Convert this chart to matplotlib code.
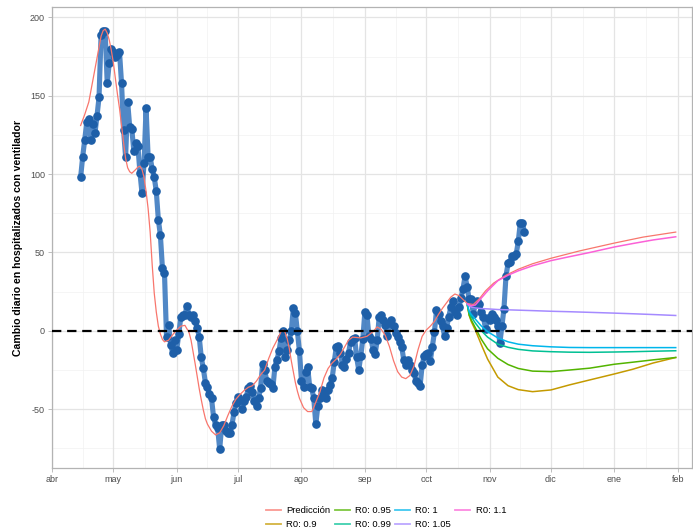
import matplotlib
matplotlib.use('Agg')
import matplotlib.pyplot as plt
import matplotlib.dates as mdates
import pandas as pd
import numpy as np
from matplotlib.lines import Line2D

plt.rcParams['font.family'] = ['Liberation Sans', 'DejaVu Sans']

# ---------------- data ----------------
obs_start = '2020-04-15'
obs_values = [
    # Apr 15-30
    98, 111, 122, 133, 135, 122, 132, 126, 137, 149, 189, 191, 191, 158, 171, 180,
    # May
    178, 175, 176, 178, 158, 128, 111, 146, 130, 129, 115, 120, 118, 101, 88, 107,
    142, 111, 111, 103, 98, 89, 71, 61, 40, 37, -4, 4, -9, -14, -6,
    # Jun
    -12, -2, 9, 10, 10, 16, 10, 9, 10, 6, 2, -4, -17, -24, -33, -36, -40, -43,
    -55, -60, -62, -75.5, -60, -60, -64, -65, -65, -60, -52, -46,
    # Jul
    -42, -44, -50, -45, -42, -36.6, -35, -38.8, -45, -48, -43, -36.6, -21, -25,
    -32, -33, -34, -36.6, -22.8, -18.5, -13, -4.7, -0.4, -16.4, -12, -5.7, -0.4,
    14.5, 11.3, -0.4, -13,
    # Aug
    -32, -35.6, -26, -22.8, -35.6, -36.6, -43, -59.4, -48, -43, -37.7, -39.8, -43,
    -37.7, -34.5, -30.2, -20, -10.4, -9.6, -14, -21.7, -22.8, -18, -14, -7, -5,
    -4.7, -17, -25, -16, -5,
    # Sep
    12.3, 10, -3.6, -5, -12, -15, -6, 9, 10, 7, 4, -3.6, 5, 7, 3, -1.5, -4, -7,
    -10, -18.5, -21.7, -18.5, -21.7, -25, -27, -32, -33.4, -35, -22, -16,
    # Oct
    -15, -14, -19, -10, -1, 13, 11, 6, 3, -3.6, 2, 9, 15, 19, 12, 10, 15, 21, 27,
    35, 28, 20, 20, 11, 17, 19, 17, 12, 9, 1, 8,
    # Nov 1-18
    7, 11, 9, 7, 3, -8, 3, 14, 35, 43, 44, 48, 48, 49, 57, 69, 69, 63,
]

pred_dates = [
    '2020-04-15', '2020-04-17', '2020-04-19', '2020-04-21', '2020-04-23', '2020-04-25',
    '2020-04-26', '2020-04-27', '2020-04-28', '2020-04-29', '2020-04-30', '2020-05-01',
    '2020-05-02', '2020-05-03', '2020-05-04', '2020-05-05', '2020-05-06', '2020-05-07',
    '2020-05-08', '2020-05-09', '2020-05-10', '2020-05-12', '2020-05-13', '2020-05-14',
    '2020-05-15', '2020-05-16', '2020-05-17', '2020-05-18', '2020-05-19', '2020-05-20',
    '2020-05-21', '2020-05-22', '2020-05-23', '2020-05-24', '2020-05-25', '2020-05-26',
    '2020-05-28', '2020-05-30', '2020-06-01', '2020-06-03', '2020-06-05', '2020-06-07',
    '2020-06-08', '2020-06-09', '2020-06-10', '2020-06-11', '2020-06-12', '2020-06-13',
    '2020-06-14', '2020-06-15', '2020-06-16', '2020-06-18', '2020-06-20', '2020-06-22',
    '2020-06-24', '2020-06-26', '2020-06-28', '2020-06-30', '2020-07-02', '2020-07-04',
    '2020-07-06', '2020-07-08', '2020-07-10', '2020-07-12', '2020-07-14', '2020-07-16',
    '2020-07-18', '2020-07-20', '2020-07-22', '2020-07-23', '2020-07-24', '2020-07-25',
    '2020-07-26', '2020-07-27', '2020-07-28', '2020-07-29', '2020-07-30', '2020-07-31',
    '2020-08-02', '2020-08-04', '2020-08-06', '2020-08-07', '2020-08-08', '2020-08-10',
    '2020-08-12', '2020-08-14', '2020-08-16', '2020-08-18', '2020-08-20', '2020-08-22',
    '2020-08-24', '2020-08-26', '2020-08-30', '2020-09-02', '2020-09-05', '2020-09-07',
    '2020-09-09', '2020-09-11', '2020-09-13', '2020-09-15', '2020-09-17', '2020-09-19',
    '2020-09-21', '2020-09-23', '2020-09-25', '2020-09-27', '2020-09-29', '2020-10-01',
    '2020-10-03', '2020-10-05', '2020-10-07', '2020-10-09', '2020-10-11', '2020-10-13',
    '2020-10-15', '2020-10-17', '2020-10-19', '2020-10-21', '2020-10-24', '2020-10-27',
    '2020-10-30', '2020-11-03', '2020-11-09', '2020-11-15', '2020-11-22', '2020-12-01',
    '2020-12-15', '2021-01-01', '2021-01-15', '2021-01-31',
]
pred_values = [
    131, 138, 146, 160, 174, 188,
    191.5, 192.5, 190, 185.5, 179, 171,
    161, 151, 142, 131, 120, 110,
    104, 101.5, 100.5, 103, 104.5, 105,
    103, 98, 89, 78, 63, 42,
    24, 12, 3, -2, -5.5, -7,
    -6, -2.5, 0.5, 3, 3.5, -1,
    -6, -13.5, -21, -29, -37, -44,
    -50.5, -56, -59.5, -64, -66.4, -65,
    -60.5, -54, -48, -43.5, -40.5, -38,
    -36, -35, -32, -28, -25, -17.5,
    -11, -6, -0.5, 0.5, -1, -5,
    -11, -19, -26, -33, -38.5, -43,
    -49, -51.5, -51.5, -49, -45.5, -39,
    -30, -24, -20.5, -18, -15, -10.5,
    -6, -4, -4.5, -3.5, -0.5, 2.5,
    1, -3, -10, -19, -26, -29.5,
    -30.5, -28.5, -22.5, -12, -3.5, 0.5,
    3, 6, 10.5, 14.5, 18, 21.5,
    23.5, 22.5, 20, 17.5, 16.8, 20.5,
    25.5, 30.5, 35.5, 39.3, 42.8, 46.3,
    51, 56, 59.8, 63,
]

scen_dates = ['2020-10-21', '2020-10-22', '2020-10-23', '2020-10-25', '2020-10-28',
              '2020-10-31', '2020-11-05', '2020-11-10', '2020-11-15', '2020-11-22',
              '2020-12-01', '2020-12-10', '2020-12-20', '2021-01-01', '2021-01-10',
              '2021-01-20', '2021-01-31']
r0_090 = [17.2, 10, 6, 0.5, -9, -18, -29.5, -35, -37.5, -38.8, -37.7, -34.5, -31.3, -27.5, -24.5, -20.5, -17]
r0_095 = [17.2, 10, 7, 2, -5.5, -11.5, -17.5, -21.5, -24, -25.7, -26, -25, -23.8, -21.3, -20, -18.5, -17]
r0_099 = [17.2, 11.5, 9, 5, 0, -4, -8.5, -10.5, -11.8, -12.8, -13.3, -13.6, -13.7, -13.5, -13.3, -13, -12.7]
r0_100 = [17.2, 12.5, 10.5, 7.5, 3, -0.5, -4.5, -7, -8.5, -9.5, -10.2, -10.6, -10.7, -10.7, -10.7, -10.7, -10.7]
r0_105 = [17.2, 16, 15.2, 14.6, 14.2, 14, 13.6, 13.4, 13.2, 12.9, 12.5, 12.2, 11.8, 11.3, 10.9, 10.4, 9.8]
r0_110 = [17.2, 16.5, 16, 16.5, 21, 25.5, 32, 35.5, 38.3, 41.5, 44.8, 47.3, 50, 53.5, 55.7, 58, 60]

legend_labels = ['Predicción', 'R0: 0.9', 'R0: 0.95', 'R0: 0.99', 'R0: 1', 'R0: 1.05', 'R0: 1.1']
legend_colors = ['#F8766D', '#C49A00', '#53B400', '#00C094', '#00B6EB', '#A58AFF', '#FB61D7']

month_ticks = ['2020-04-01', '2020-05-01', '2020-06-01', '2020-07-01', '2020-08-01',
               '2020-09-01', '2020-10-01', '2020-11-01', '2020-12-01', '2021-01-01',
               '2021-02-01']
month_labels = ['abr', 'may', 'jun', 'jul', 'ago', 'sep', 'oct', 'nov', 'dic', 'ene', 'feb']
y_ticks = [-50, 0, 50, 100, 150, 200]
y_minor = [-75, -25, 25, 75, 125, 175]
ylabel = 'Cambio diario en hospitalizados con ventilador'

# ---------------- figure ----------------
W, H = 693, 531
fig = plt.figure(figsize=(W / 100, H / 100), dpi=100)
ax = fig.add_axes([52 / W, 1 - 468 / H, (692 - 52) / W, (468 - 7) / H])

obs_dates = pd.date_range(obs_start, periods=len(obs_values), freq='D')
pd_dates = pd.to_datetime(pred_dates)
sc_dates = pd.to_datetime(scen_dates)
tick_dates = pd.to_datetime(month_ticks)
tick_num = mdates.date2num(tick_dates)
minor_num = (tick_num[:-1] + tick_num[1:]) / 2

# grid
for v in y_minor:
    ax.axhline(v, color='#F2F2F2', lw=0.5, zorder=0)
for v in minor_num:
    ax.axvline(v, color='#F2F2F2', lw=0.5, zorder=0)
for v in y_ticks:
    ax.axhline(v, color='#E4E4E4', lw=0.9, zorder=0)
for v in tick_num:
    ax.axvline(v, color='#E4E4E4', lw=0.9, zorder=0)

# observed
ax.plot(obs_dates, obs_values, color='#3273BC', lw=3.7, alpha=0.85, zorder=2,
        solid_joinstyle='round', solid_capstyle='round')
ax.plot(obs_dates, obs_values, ls='none', marker='o', ms=5.2, color='#1E5FA8',
        mec='#1E5FA8', zorder=3)

# prediction & scenarios
ax.plot(pd_dates, pred_values, color=legend_colors[0], lw=0.9, zorder=4)
for vals, col in zip([r0_090, r0_095, r0_099, r0_100, r0_105, r0_110], legend_colors[1:]):
    ax.plot(sc_dates, vals, color=col, lw=1.1, zorder=4)

# zero line
ax.axhline(0, color='black', lw=1.6, ls=(0, (4.2, 2.6)), zorder=5)

ax.set_xlim(mdates.date2num(pd.Timestamp('2020-04-01')),
            mdates.date2num(pd.Timestamp('2020-04-01')) + (692 - 52) / 2.045)
ax.set_ylim(-87.5, 206.6)

ax.set_xticks(tick_num)
ax.set_xticklabels(month_labels)
ax.set_yticks(y_ticks)
ax.set_yticklabels([str(v) for v in y_ticks])
ax.tick_params(axis='both', labelsize=6.5, colors='#B3B3B3', labelcolor='#4D4D4D',
               length=2.8, width=0.6, pad=2.2)
for s in ax.spines.values():
    s.set_color('#B3B3B3')
    s.set_linewidth(0.9)

ax.set_ylabel(ylabel, fontsize=7.6, fontweight='bold', labelpad=5)

handles = [Line2D([], [], color=c, lw=1.3, alpha=0.75) for c in legend_colors]
fig.legend(handles, legend_labels, loc='center', ncol=4, bbox_to_anchor=(0.557, 0.025),
           frameon=False, fontsize=6.8, handlelength=1.6, handletextpad=0.55,
           columnspacing=0.45, labelspacing=0.55)

fig.savefig('out.png', dpi=100)
